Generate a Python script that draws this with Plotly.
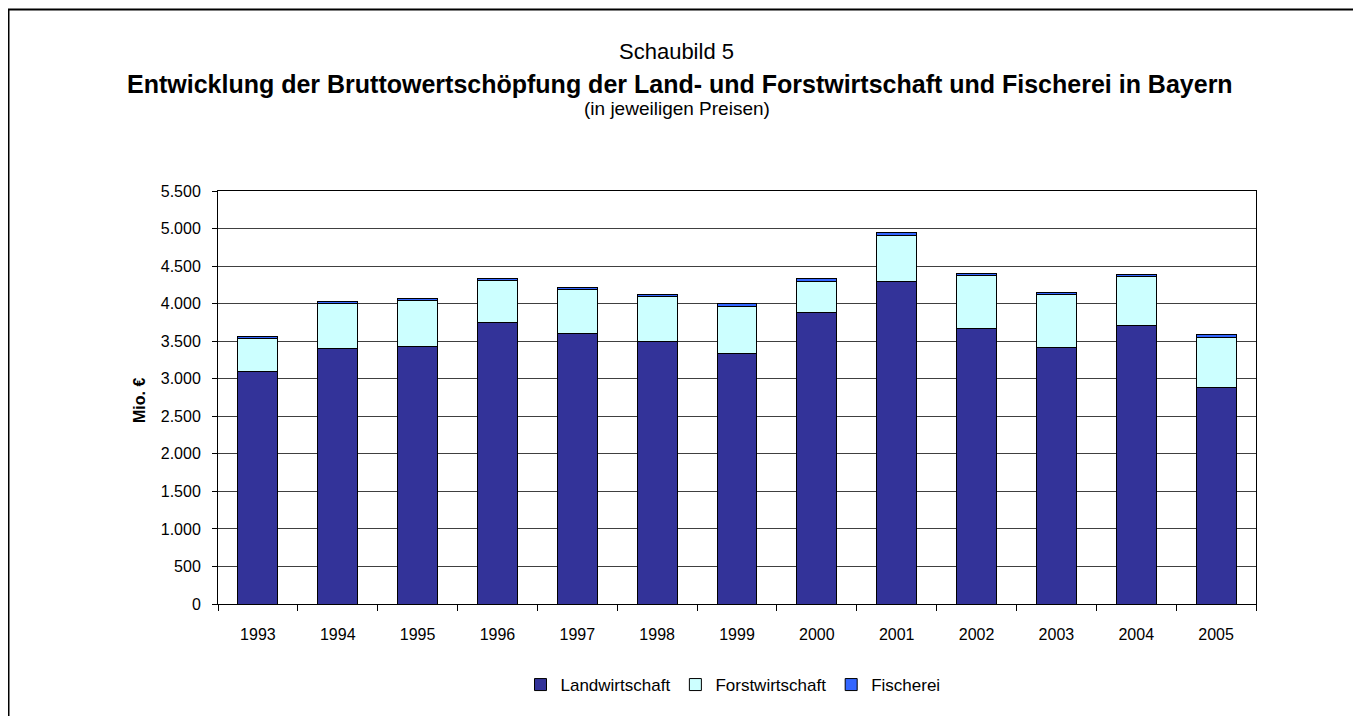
import plotly.graph_objects as go

years = ["1993", "1994", "1995", "1996", "1997", "1998", "1999",
         "2000", "2001", "2002", "2003", "2004", "2005"]
landwirtschaft = [3090, 3400, 3430, 3755, 3600, 3500, 3335, 3880, 4296, 3667, 3414, 3715, 2882]
forstwirtschaft = [445, 600, 610, 550, 585, 590, 630, 420, 615, 705, 713, 643, 670]
fischerei = [30, 35, 35, 30, 25, 35, 35, 30, 30, 30, 27, 30, 35]
y_ticks = [0, 500, 1000, 1500, 2000, 2500, 3000, 3500, 4000, 4500, 5000, 5500]

OFF = 9  # page offset of the figure in the browser
W, H = 1361, 716
# target screen positions of the plot area
SL, SR, ST, SB = 219, 1257, 192, 605
L, R, T, B = SL - OFF, SR - OFF, ST - OFF, SB - OFF

def px(x):  # screen x -> paper
    return (x - SL) / (SR - SL)

def py(y):  # screen y -> paper
    return (SB - y) / (SB - ST)

FONT = "Liberation Sans, Arial, sans-serif"

fig = go.Figure()
fig.add_trace(go.Bar(x=years, y=landwirtschaft, name="Landwirtschaft",
                     marker=dict(color="#333399", line=dict(color="black", width=1))))
fig.add_trace(go.Bar(x=years, y=forstwirtschaft, name="Forstwirtschaft",
                     marker=dict(color="#CCFFFF", line=dict(color="black", width=1))))
fig.add_trace(go.Bar(x=years, y=fischerei, name="Fischerei",
                     marker=dict(color="#3366FF", line=dict(color="black", width=1))))

fig.update_layout(
    width=W, height=H,
    barmode="stack", bargap=0.5,
    separators=",.",
    paper_bgcolor="white", plot_bgcolor="white",
    font=dict(family=FONT, size=16, color="black"),
    margin=dict(l=L, r=W - R, t=T, b=H - B, pad=0),
    showlegend=True,
    legend=dict(orientation="h", x=px(734), xanchor="center", y=py(686), yanchor="middle",
                font=dict(size=17, family=FONT), traceorder="normal",
                itemwidth=30, tracegroupgap=0),
    xaxis=dict(type="category", showline=True, linecolor="black", linewidth=1,
               mirror=True, ticks="outside", ticklen=6, tickcolor="black",
               tickson="boundaries", showgrid=False, ticklabelstandoff=16,
               tickfont=dict(size=16, family=FONT)),
    yaxis=dict(range=[0, 5500], tickvals=y_ticks, tickformat=",d",
               showline=True, linecolor="black", linewidth=1, mirror=True,
               ticks="outside", ticklen=5, tickcolor="black", ticklabelstandoff=8,
               showgrid=True, gridcolor="#404040", gridwidth=1,
               zeroline=False, tickfont=dict(size=16, family=FONT)),
)

fig.add_annotation(text="Schaubild 5", x=px(677), y=py(52),
                   xref="paper", yref="paper", showarrow=False,
                   font=dict(size=22, family=FONT), xanchor="center", yanchor="middle")
fig.add_annotation(text="<b>Entwicklung der Bruttowertschöpfung der Land- und Forstwirtschaft und Fischerei in Bayern</b>",
                   x=px(681), y=py(84.5), xref="paper", yref="paper", showarrow=False,
                   font=dict(size=25, family=FONT), xanchor="center", yanchor="middle")
fig.add_annotation(text="(in jeweiligen Preisen)", x=px(678), y=py(110),
                   xref="paper", yref="paper", showarrow=False,
                   font=dict(size=19, family=FONT), xanchor="center", yanchor="middle")
fig.add_annotation(text="<b>Mio. €</b>", x=px(140), y=py(402), textangle=-90,
                   xref="paper", yref="paper", showarrow=False,
                   font=dict(size=16, family=FONT), xanchor="center", yanchor="middle")

# outer frame
fig.add_shape(type="rect", xref="paper", yref="paper",
              x0=px(9.5), x1=px(1380), y0=py(740), y1=py(10.5),
              line=dict(color="black", width=2), fillcolor="rgba(0,0,0,0)", layer="below")

fig.write_html("out.html")
